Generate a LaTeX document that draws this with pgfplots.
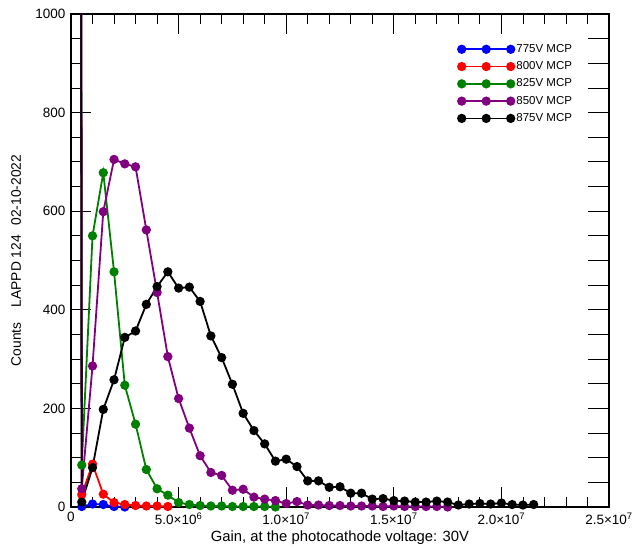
\documentclass[border=0pt]{standalone}
\usepackage{fontspec}
\setmainfont{Liberation Sans}
\usepackage{pgfplots}
\pgfplotsset{compat=1.18}
\definecolor{cblue}{RGB}{0,0,255}
\definecolor{cred}{RGB}{255,0,0}
\definecolor{cgreen}{RGB}{0,128,0}
\definecolor{cpurple}{RGB}{128,0,128}
\begin{document}
\fontsize{13}{15}\selectfont
\begin{tikzpicture}
\pgfplotsset{
  every axis plot/.append style={line width=1.8pt, mark=*, mark size=3.7pt, mark options={line width=0.5pt, solid}},
}
\begin{axis}[
  width=538pt, height=493pt, scale only axis,
  xmin=0, xmax=25, ymin=0, ymax=1000,
  xtick={0,5,10,15,20,25},
  xticklabels={0, 5.0×10\textsuperscript{6}, 1.0×10\textsuperscript{7}, 1.5×10\textsuperscript{7}, 2.0×10\textsuperscript{7}, 2.5×10\textsuperscript{7}},
  ytick={0,200,400,600,800,1000},
  minor x tick num=4, minor y tick num=3,
  xtick pos=both, ytick pos=left,
  major tick length=20pt, minor tick length=10pt,
  tick style={black, line width=0.8pt},
  axis line style={line width=1.3pt},
  /pgf/number format/assume math mode=true,
  /pgf/number format/1000 sep={},
  ticklabel style={font=\fontsize{13.5}{15}\selectfont},
  xticklabel style={yshift=-1pt},
  yticklabel style={xshift=-1pt},
  xlabel={Gain, at the photocathode voltage: 30V},
  ylabel={Counts\hspace{1.1em}LAPPD 124\hspace{0.7em}02-10-2022},
  xlabel style={at={(axis description cs:0.5,-0.062)}, anchor=center, font=\fontsize{14.8}{16}\selectfont},
  ylabel style={at={(axis description cs:-0.102,0.5)}, anchor=center, rotate=0, font=\fontsize{13.8}{15}\selectfont},
  legend style={at={(0.719,0.943)}, anchor=north west, draw=none, fill=none, font=\fontsize{11.5}{13}\selectfont, row sep=3.3pt, inner sep=0pt, /tikz/every even column/.append style={column sep=2pt}},
  legend cell align=left,
  legend image code/.code={\draw[#1] plot coordinates {(0pt,0pt) (24.5pt,0pt) (49pt,0pt)};},
]
\coordinate (O) at (rel axis cs:0,0);
\addplot[cblue, mark options={fill=cblue}] coordinates {
(0,20000)(0.5,1)(1,6)(1.5,5)(2,1)(2.5,0)
};
\addlegendentry{775V MCP}
\addplot[cred, mark options={fill=cred}] coordinates {
(0,20000)(0.5,25)(1,87)(1.5,26)(2,9)(2.5,5)(3,3)(3.5,2)(4,2)(4.5,1)
};
\addlegendentry{800V MCP}
\addplot[cgreen, mark options={fill=cgreen}] coordinates {
(0,20000)(0.5,85)(1,550)(1.5,678)(2,477)(2.5,247)(3,168)(3.5,76)(4,37)(4.5,24)(5,9)(5.5,5)(6,3)(6.5,2)(7,2)(7.5,1)(8,1)(8.5,1)(9,1)(9.5,0)
};
\addlegendentry{825V MCP}
\addplot[cpurple, mark options={fill=cpurple}] coordinates {
(0,20000)(0.5,37)(1,286)(1.5,599)(2,705)(2.5,696)(3,690)(3.5,562)(4,435)(4.5,305)(5,220)(5.5,160)(6,104)(6.5,70)(7,64)(7.5,34)(8,36)(8.5,20)(9,16)(9.5,13)(10,7)(10.5,11)(11,4)(11.5,4)(12,3)(12.5,3)(13,2)(13.5,2)(14,2)(14.5,1)(15,2)(15.5,1)(16,1)(16.5,1)(17,1)(17.5,0)
};
\addlegendentry{850V MCP}
\addplot[black, mark options={fill=black}] coordinates {
(0,20000)(0.5,10)(1,80)(1.5,198)(2,258)(2.5,344)(3,357)(3.5,411)(4,447)(4.5,477)(5,444)(5.5,446)(6,417)(6.5,347)(7,303)(7.5,249)(8,190)(8.5,155)(9,128)(9.5,93)(10,97)(10.5,82)(11,53)(11.5,53)(12,40)(12.5,41)(13,28)(13.5,28)(14,16)(14.5,17)(15,13)(15.5,12)(16,10)(16.5,10)(17,12)(17.5,10)(18,4)(18.5,6)(19,7)(19.5,6)(20,8)(20.5,5)(21,4)(21.5,5)
};
\addlegendentry{875V MCP}
\end{axis}
\begin{axis}[
  width=538pt, height=493pt, scale only axis,
  xmin=0, xmax=25, ymin=0, ymax=1000,
  axis line style={draw=none},
  xtick=\empty,
  ytick={0,200,400,600,800,1000}, yticklabels={},
  minor y tick num=3, ytick pos=right,
  major tick length=21pt, minor tick length=21pt,
  tick style={black, line width=0.8pt},
]
\end{axis}
\pgfresetboundingbox
\path (O) ++(-71pt,-41pt) rectangle ++(637pt,548pt);
\end{tikzpicture}
\end{document}
